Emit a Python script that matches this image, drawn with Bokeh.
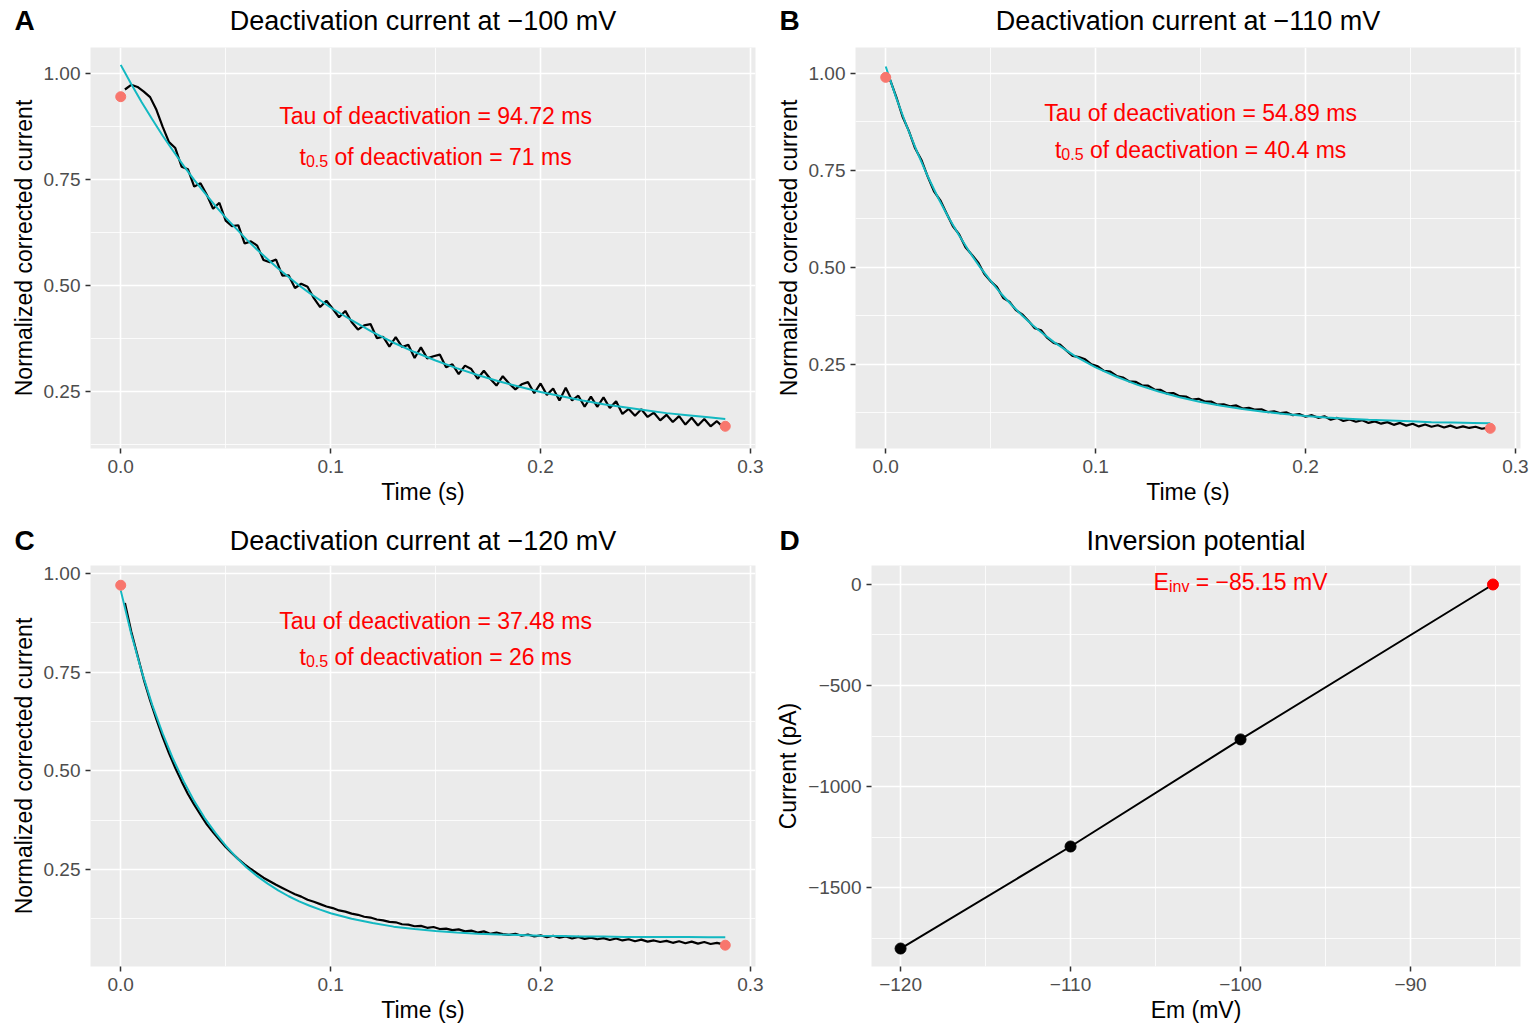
from bokeh.plotting import figure
from bokeh.models import Range1d, FixedTicker, Label, CustomJSTickFormatter
from bokeh.layouts import column, row
from bokeh.embed import file_html
from bokeh.resources import INLINE

FONT = "Liberation Sans"

# ---------------- data ----------------
trace_t = [round(0.002 + 0.003 * i, 3) for i in range(96)]  # sampling times (s)

trace_a = [.962, .973, .968, .957, .944, .914, .874, .838,
           .824, .780, .774, .733, .741, .714, .681, .695,
           .653, .640, .642, .599, .604, .594, .560, .555,
           .561, .523, .524, .494, .504, .497, .470, .449,
           .464, .445, .425, .440, .414, .396, .406, .409,
           .376, .379, .356, .378, .355, .360, .329, .354,
           .328, .333, .337, .307, .314, .291, .311, .303,
           .280, .299, .280, .264, .286, .269, .255, .267,
           .272, .246, .269, .242, .257, .229, .259, .229,
           .240, .214, .238, .214, .236, .211, .227, .197,
           .209, .193, .208, .190, .200, .182, .195, .178,
           .192, .172, .188, .170, .185, .168, .180, .166]

trace_b = [.985, .940, .889, .852, .807, .777, .734, .696,
           .673, .639, .606, .585, .552, .533, .513, .483,
           .464, .449, .421, .411, .390, .379, .362, .343,
           .338, .318, .305, .301, .286, .272, .269, .263,
           .250, .245, .233, .231, .220, .216, .206, .205,
           .196, .195, .185, .184, .175, .176, .168, .167,
           .159, .161, .154, .154, .146, .147, .142, .144,
           .136, .138, .133, .134, .127, .129, .124, .126,
           .119, .122, .115, .119, .112, .116, .107, .112,
           .104, .108, .102, .106, .099, .103, .097, .101,
           .094, .099, .092, .097, .090, .095, .089, .093,
           .087, .092, .086, .090, .086, .089, .084, .087]

trace_c = [.925, .853, .792, .731, .678, .630, .585, .544,
           .507, .473, .441, .414, .389, .364, .344, .325,
           .307, .291, .276, .263, .251, .240, .229, .220,
           .211, .203, .195, .187, .181, .173, .168, .162,
           .156, .152, .146, .143, .138, .135, .130, .128,
           .123, .121, .117, .116, .111, .110, .106, .107,
           .102, .104, .099, .100, .096, .098, .093, .095,
           .090, .093, .087, .090, .086, .084, .087, .082,
           .085, .080, .083, .078, .082, .077, .080, .075,
           .079, .074, .077, .073, .076, .071, .075, .070,
           .073, .068, .072, .067, .070, .066, .069, .064,
           .068, .063, .067, .062, .066, .061, .064, .060]

fit_t = [0.0, .005, .01, .015, .02, .025, .03, .035, .04, .045, .05, .055, .06, .065,
         .07, .075, .08, .085, .09, .095, .1, .11, .12, .13, .14, .15, .16, .17, .18,
         .19, .2, .21, .22, .23, .24, .25, .26, .27, .28, .288]
fit_a = [1.020, .975, .932, .892, .853, .817, .782, .749, .718, .688, .660, .634, .608, .584,
         .562, .540, .520, .500, .482, .465, .448, .418, .390, .365, .343, .323, .305, .289,
         .274, .261, .249, .239, .229, .220, .213, .206, .199, .194, .189, .185]
fit_b = [1.018, .937, .864, .797, .735, .679, .628, .582, .539, .500, .465, .432, .403, .376,
         .351, .329, .308, .290, .272, .257, .242, .218, .197, .180, .165, .153, .143, .135,
         .128, .122, .117, .113, .110, .107, .105, .103, .101, .100, .099, .098]
fit_c = [.957, .847, .751, .667, .594, .529, .473, .423, .380, .343, .310, .281, .255, .233,
         .214, .197, .182, .169, .158, .148, .139, .125, .114, .105, .099, .094, .090, .087,
         .085, .084, .082, .081, .080, .080, .079, .079, .079, .079, .078, .078]

end_t = [0.0, 0.288]
end_a = [0.945, 0.168]
end_b = [0.990, 0.085]
end_c = [0.970, 0.058]

em_mv = [-120, -110, -100, -85.15]
current_pa = [-1802, -1297, -767, 0]

time_ticks = [0.0, 0.1, 0.2, 0.3]
time_tick_labels = ["0.0", "0.1", "0.2", "0.3"]
norm_ticks = [0.25, 0.5, 0.75, 1.0]
norm_tick_labels = ["0.25", "0.50", "0.75", "1.00"]
em_ticks = [-120, -110, -100, -90]
em_tick_labels = ["\u2212120", "\u2212110", "\u2212100", "\u221290"]
cur_ticks = [-1500, -1000, -500, 0]
cur_tick_labels = ["\u22121500", "\u22121000", "\u2212500", "0"]

# ---------------- helpers ----------------
W = {' ': 278, '.': 278, '0': 556, '1': 556, '2': 556, '3': 556, '4': 556, '5': 556,
     '6': 556, '7': 556, '8': 556, '9': 556, '=': 584, '\u2212': 584, 'a': 556, 'c': 500,
     'd': 556, 'e': 556, 'f': 278, 'i': 222, 'm': 833, 'n': 556, 'o': 556, 's': 500,
     't': 278, 'v': 500, 'E': 667, 'V': 667, 'T': 611, 'u': 556}

HEAD_H = 40
PANEL_TOP = 7


def tw(s, size):
    return sum(W.get(c, 556) for c in s) * size / 1000.0


def fmt(tks, labels):
    return CustomJSTickFormatter(args=dict(tk=tks, lb=labels), code="""
        const i = tk.findIndex(t => Math.abs(t - tick) < 1e-9);
        return i >= 0 ? lb[i] : '';
    """)


def header(title, letter, left, fw, right, title_y):
    width = left + fw + right
    h = figure(output_backend="svg", toolbar_location=None,
               width=width, height=HEAD_H,
               x_range=Range1d(0, width), y_range=Range1d(0, HEAD_H),
               min_border=0, x_axis_location=None, y_axis_location=None)
    h.frame_align = False
    h.grid.visible = False
    h.outline_line_color = None
    h.background_fill_color = "white"
    h.border_fill_color = "white"
    h.add_layout(Label(x=14, y=title_y, text=letter, text_font=FONT, text_font_size="28px",
                       text_font_style="bold", text_color="black",
                       text_baseline="middle", text_align="left"))
    h.add_layout(Label(x=left + fw / 2.0, y=title_y, text=title, text_font=FONT,
                       text_font_size="27px", text_color="black",
                       text_baseline="middle", text_align="center"))
    return h


def panel(xr, yr, xt, xtl, xminor, yt, ytl, yminor, xlabel, ylabel,
          left, right, bottom, fw, fh):
    p = figure(output_backend="svg", toolbar_location=None,
               x_range=Range1d(*xr), y_range=Range1d(*yr),
               frame_width=fw, frame_height=fh,
               min_border_left=left, min_border_right=right,
               min_border_top=PANEL_TOP, min_border_bottom=bottom)
    p.frame_align = False
    p.background_fill_color = "#EBEBEB"
    p.border_fill_color = "white"
    p.outline_line_color = None
    p.xaxis.ticker = FixedTicker(ticks=xt, minor_ticks=xminor)
    p.yaxis.ticker = FixedTicker(ticks=yt, minor_ticks=yminor)
    p.xaxis.formatter = fmt(xt, xtl)
    p.yaxis.formatter = fmt(yt, ytl)
    for g in (p.xgrid, p.ygrid):
        g.grid_line_color = "white"
        g.grid_line_width = 1.6
        g.minor_grid_line_color = "white"
        g.minor_grid_line_width = 0.8
    for ax in (p.xaxis, p.yaxis):
        ax.axis_line_color = None
        ax.minor_tick_line_color = None
        ax.major_tick_line_color = "#333333"
        ax.major_tick_line_width = 1.5
        ax.major_tick_out = 5
        ax.major_tick_in = 0
        ax.major_label_text_font = FONT
        ax.major_label_text_font_size = "19px"
        ax.major_label_text_color = "#4D4D4D"
        ax.major_label_standoff = 5
        ax.axis_label_text_font = FONT
        ax.axis_label_text_font_size = "23px"
        ax.axis_label_text_font_style = "normal"
        ax.axis_label_text_color = "black"
    p.xaxis.axis_label = xlabel
    p.yaxis.axis_label = ylabel
    p.xaxis.major_label_standoff = 6
    p.xaxis.axis_label_standoff = 3
    p.yaxis.axis_label_standoff = 4
    return p


def red_text(p, x, y, text):
    p.add_layout(Label(x=x, y=y, text=text, text_font=FONT, text_font_size="23px",
                       text_color="red", text_align="center", text_baseline="alphabetic"))


def red_sub_text(p, x, y, main, sub, rest):
    w_main = tw(main, 23)
    w_sub = tw(sub, 16)
    w_rest = tw(" " + rest, 23)
    left = -(w_main + w_sub + w_rest) / 2.0
    common = dict(x=x, y=y, text_font=FONT, text_color="red",
                  text_align="left", text_baseline="alphabetic")
    p.add_layout(Label(text=main, x_offset=left, text_font_size="23px", **common))
    p.add_layout(Label(text=sub, x_offset=left + w_main, y_offset=-4,
                       text_font_size="16px", **common))
    p.add_layout(Label(text=rest, x_offset=left + w_main + w_sub + tw(" ", 23),
                       text_font_size="23px", **common))


def decay_panel(yr, trace, fit, ends, tau_txt, t05_txt, ytext, left, right, bottom):
    p = panel((-0.0144, 0.3024), yr,
              time_ticks, time_tick_labels, [0.05, 0.15, 0.25],
              norm_ticks, norm_tick_labels, [0.125, 0.375, 0.625, 0.875],
              "Time (s)", "Normalized corrected current", left, right, bottom, 665, 401)
    p.line(trace_t, trace, line_color="black", line_width=2.2)
    p.line(fit_t, fit, line_color="#13B8C1", line_width=2)
    p.scatter(end_t, ends, size=10, color="#F8766D")
    red_text(p, 0.15, ytext[0], tau_txt)
    red_sub_text(p, 0.15, ytext[1], "t", "0.5", t05_txt)
    return p


ha = header("Deactivation current at \u2212100 mV", "A", 90, 665, 10, 20)
pa = decay_panel((0.1156, 1.061), trace_a, fit_a, end_a,
                 "Tau of deactivation = 94.72 ms", "of deactivation = 71 ms", (0.899, 0.804),
                 90, 10, 70)
hb = header("Deactivation current at \u2212110 mV", "B", 90, 665, 16, 20)
pb = decay_panel((0.033, 1.067), trace_b, fit_b, end_b,
                 "Tau of deactivation = 54.89 ms", "of deactivation = 40.4 ms", (0.898, 0.802),
                 90, 16, 70)
hc = header("Deactivation current at \u2212120 mV", "C", 90, 665, 10, 18)
pc = decay_panel((0.004, 1.020), trace_c, fit_c, end_c,
                 "Tau of deactivation = 37.48 ms", "of deactivation = 26 ms", (0.880, 0.787),
                 90, 10, 62)

hd = header("Inversion potential", "D", 106, 649, 16, 18)
pd = panel((-121.71, -83.53), (-1891, 94),
           em_ticks, em_tick_labels, [-115, -105, -95, -85],
           cur_ticks, cur_tick_labels, [-1750, -1250, -750, -250],
           "Em (mV)", "Current (pA)", 106, 16, 62, 649, 401)
pd.line(em_mv, current_pa, line_color="black", line_width=2)
pd.scatter(em_mv[:3], current_pa[:3], size=11, color="black")
pd.scatter(em_mv[3:], current_pa[3:], size=11, color="red")
red_sub_text(pd, -100.0, 10, "E", "inv", "= \u221285.15 mV")

layout = column(row(column(ha, pa), column(hb, pb)),
                row(column(hc, pc), column(hd, pd)))

open("out.html", "w").write(file_html(layout, INLINE))
